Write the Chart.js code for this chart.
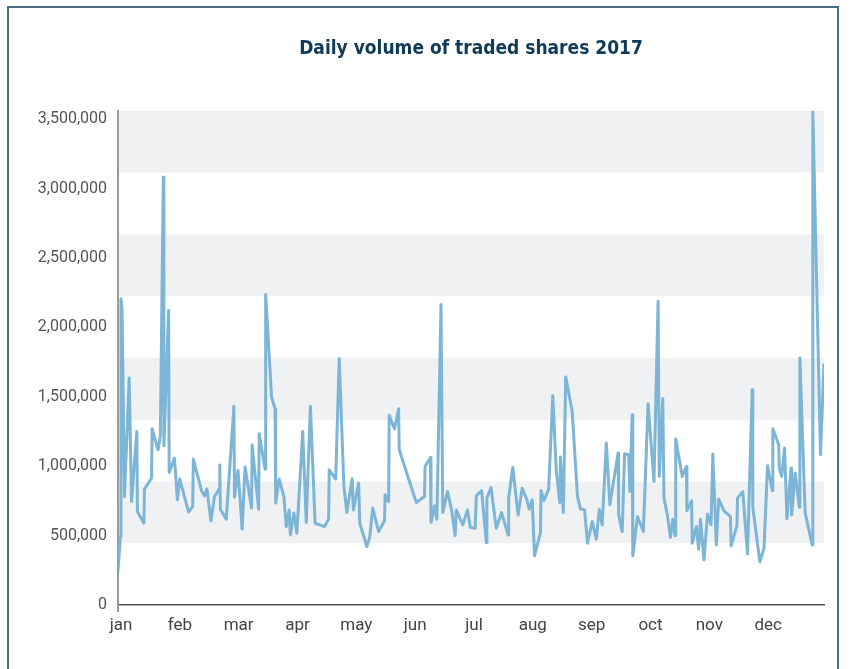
<!DOCTYPE html>
<html>
<head>
<meta charset="utf-8">
<title>Daily volume of traded shares 2017</title>
<script src="https://cdn.jsdelivr.net/npm/chart.js@4.4.1/dist/chart.umd.min.js"></script>
<style>
  html, body { margin: 0; padding: 0; background: #fff; }
  #wrap { position: relative; width: 850px; height: 669px; overflow: hidden; }
  #volumeChart { position: absolute; left: 0; top: 0; }
  #frame {
    position: absolute; left: 7px; top: 6px; width: 828px; height: 700px;
    border: 2px solid #4b6d84; pointer-events: none;
  }
</style>
</head>
<body>
<div id="wrap">
  <canvas id="volumeChart" width="850" height="669"></canvas>
  <div id="frame"></div>
</div>
<script>
// Month names shown under the x axis (one tick per month)
const monthLabels = ['jan', 'feb', 'mar', 'apr', 'may', 'jun', 'jul', 'aug', 'sep', 'oct', 'nov', 'dec']

// Values labelled on the y axis
const yTicks = [0, 500000, 1000000, 1500000, 2000000, 2500000, 3000000, 3500000]

// Position of each trading day, in months from 1 jan
const monthPos = [
  0.00, 0.04, 0.05, 0.07, 0.11, 0.19, 0.23, 0.32, 0.33, 0.44, 0.45, 0.57, 0.58, 0.68, 0.72, 0.77, 0.78, 0.86, 0.87, 0.96,
  1.01, 1.05, 1.20, 1.27, 1.28, 1.42, 1.47, 1.51, 1.58, 1.64, 1.72, 1.73, 1.74, 1.84, 1.97, 1.98,
  2.04, 2.11, 2.16, 2.27, 2.28, 2.39, 2.40, 2.50, 2.51, 2.61, 2.67, 2.68, 2.74, 2.82, 2.86, 2.91, 2.93, 2.99,
  3.04, 3.14, 3.20, 3.27, 3.35, 3.51, 3.58, 3.59, 3.70, 3.76, 3.84, 3.89, 3.98,
  4.00, 4.09, 4.11, 4.23, 4.28, 4.33, 4.43, 4.53, 4.54, 4.60, 4.61, 4.70, 4.77, 4.78,
  5.07, 5.21, 5.22, 5.31, 5.32, 5.38, 5.42, 5.49, 5.52, 5.60, 5.67, 5.73, 5.75, 5.86, 5.94, 5.99,
  6.07, 6.09, 6.18, 6.26, 6.27, 6.34, 6.43, 6.52, 6.63, 6.64, 6.71, 6.80, 6.87, 6.95, 6.99,
  7.04, 7.08, 7.18, 7.19, 7.24, 7.32, 7.39, 7.45, 7.51, 7.52, 7.57, 7.61, 7.72, 7.81, 7.86, 7.93, 7.98,
  8.06, 8.13, 8.18, 8.23, 8.30, 8.36, 8.50, 8.51, 8.57, 8.61, 8.68, 8.70, 8.74, 8.75, 8.83, 8.93,
  9.01, 9.11, 9.18, 9.20, 9.26, 9.28, 9.34, 9.39, 9.43, 9.47, 9.48, 9.59, 9.66, 9.67, 9.75, 9.76, 9.83, 9.87, 9.90, 9.96,
  10.02, 10.08, 10.11, 10.17, 10.21, 10.30, 10.41, 10.42, 10.52, 10.53, 10.62, 10.70, 10.78, 10.79, 10.91, 10.98,
  11.04, 11.12, 11.13, 11.23, 11.24, 11.28, 11.33, 11.37, 11.44, 11.45, 11.51, 11.58, 11.59, 11.68, 11.80, 11.81, 11.94, 12.00
]

// Shares traded that day
const volume = [
  240000, 493000, 2206000, 2128000, 781000, 1636000, 745000, 1250000, 673000, 589000, 835000, 914000, 1270000, 1118000, 1214000, 3081000, 1147000, 2123000, 955000, 1058000,
  758000, 907000, 669000, 709000, 1051000, 823000, 786000, 837000, 606000, 781000, 835000, 1008000, 690000, 618000, 1431000, 777000,
  969000, 546000, 994000, 698000, 1152000, 690000, 1234000, 979000, 2237000, 1499000, 1412000, 734000, 907000, 781000, 565000, 685000, 505000, 662000,
  517000, 1250000, 594000, 1431000, 589000, 565000, 618000, 974000, 907000, 1775000, 854000, 666000, 909000,
  685000, 878000, 589000, 421000, 493000, 698000, 529000, 608000, 794000, 745000, 1366000, 1268000, 1414000, 1118000,
  738000, 781000, 998000, 1063000, 594000, 714000, 618000, 2165000, 666000, 817000, 685000, 500000, 685000, 577000, 685000, 558000,
  553000, 786000, 825000, 449000, 770000, 846000, 553000, 666000, 505000, 770000, 991000, 649000, 842000, 758000, 690000,
  758000, 354000, 522000, 825000, 753000, 835000, 1508000, 962000, 738000, 1066000, 666000, 1643000, 1395000, 781000, 693000, 685000, 445000,
  601000, 474000, 690000, 577000, 1167000, 722000, 1094000, 649000, 529000, 1089000, 1082000, 817000, 1371000, 354000, 637000, 529000,
  1450000, 890000, 2188000, 926000, 1486000, 770000, 642000, 488000, 618000, 498000, 1196000, 926000, 998000, 680000, 750000, 445000, 565000, 402000, 618000, 325000,
  654000, 577000, 1087000, 433000, 763000, 678000, 637000, 426000, 570000, 770000, 817000, 368000, 1551000, 702000, 312000, 409000,
  1003000, 825000, 1270000, 1154000, 986000, 926000, 1131000, 620000, 986000, 649000, 950000, 705000, 1780000, 662000, 433000, 3560000, 1082000, 1740000
]

// Background stripes follow their own 500,000 grid up to 4,000,000
const bandStep = 500000
const bandMax = 4000000

const points = monthPos.map((m, i) => ({ x: m, y: volume[i] }))

// Alternating grey stripes behind the line
const bandsPlugin = {
  id: 'bands',
  beforeDraw (chart) {
    const { ctx, chartArea } = chart
    const scale = chart.scales.bands
    ctx.save()
    ctx.fillStyle = '#f0f1f3'
    for (let v = bandStep; v < bandMax; v += bandStep * 2) {
      const top = scale.getPixelForValue(v + bandStep)
      const bottom = scale.getPixelForValue(v)
      ctx.fillRect(chartArea.left, top, chartArea.right - chartArea.left, bottom - top)
    }
    ctx.restore()
  }
}

const ctx = document.getElementById('volumeChart').getContext('2d')
const volumeChart = new Chart(ctx, {
  type: 'line',
  data: {
    datasets: [
      {
        label: 'Volume',
        data: points,
        borderColor: '#7cb5d5',
        borderWidth: 3,
        borderJoinStyle: 'round',
        pointRadius: 0,
        tension: 0,
        fill: false,
        yAxisID: 'y'
      }
    ]
  },
  options: {
    responsive: false,
    animation: false,
    devicePixelRatio: 1,
    layout: { padding: { left: 0, right: 26, top: 0, bottom: 0 } },
    plugins: {
      legend: { display: false },
      tooltip: { enabled: false },
      title: {
        display: true,
        text: 'Daily volume of traded shares 2017',
        fullSize: false,
        color: '#0f3a58',
        font: { family: "'Liberation Sans Narrow', 'DejaVu Sans Condensed', sans-serif", size: 19, weight: 'bold' },
        padding: { top: 38, bottom: 50 }
      }
    },
    scales: {
      x: {
        type: 'linear',
        min: 0,
        max: 12,
        afterFit (scale) { scale.height = 64 },
        grid: {
          drawOnChartArea: false,
          drawTicks: true,
          tickLength: 7,
          color: (c) => (c.tick && c.tick.value === 0 ? '#9a9a9a' : 'rgba(0,0,0,0)'),
          lineWidth: 2
        },
        border: { display: true, color: '#555', width: 1.5 },
        ticks: {
          stepSize: 1,
          autoSkip: false,
          maxRotation: 0,
          padding: 4,
          labelOffset: 3,
          color: '#444',
          font: { family: 'Roboto', size: 17 },
          callback: (v) => monthLabels[v] || ''
        }
      },
      y: {
        position: 'left',
        min: 0,
        max: 3560000,
        afterFit (scale) { scale.width = 118 },
        afterBuildTicks (scale) { scale.ticks = yTicks.map((v) => ({ value: v })) },
        grid: { display: false, drawTicks: false },
        border: { display: true, color: '#9a9a9a', width: 2 },
        ticks: {
          padding: 11,
          color: '#555',
          font: { family: 'Roboto', size: 16 },
          callback: (v) => v.toLocaleString('en-US')
        }
      },
      bands: {
        display: false,
        position: 'left',
        min: 0,
        max: bandMax
      }
    }
  },
  plugins: [bandsPlugin]
})
</script>
</body>
</html>
